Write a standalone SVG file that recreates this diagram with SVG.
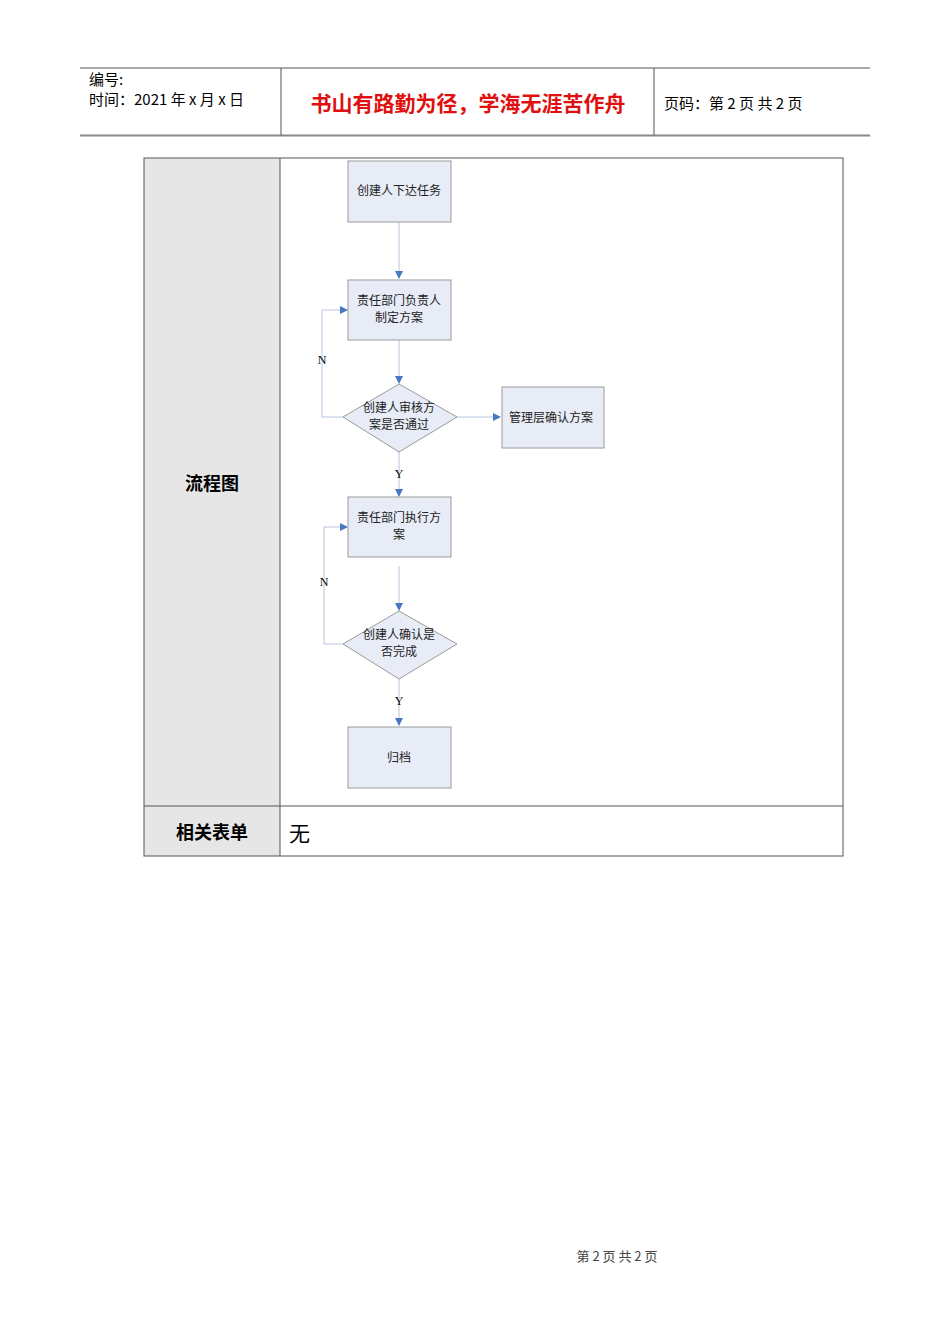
<svg xmlns="http://www.w3.org/2000/svg" width="950" height="1344" viewBox="0 0 950 1344">
<style>
text{font-family:"Noto Sans CJK SC","Liberation Sans",sans-serif;fill:#000}
.box{fill:#e8ecf7;stroke:#9a9a9a;stroke-width:1}
.dia{fill:#e8ecf7;stroke:#9a9a9a;stroke-width:1}
.n{font-size:12px;text-anchor:middle;fill:#222}
.c{fill:none;stroke:#b8c6dd;stroke-width:1}
.yn{font-family:"Liberation Serif",serif;font-size:12px;text-anchor:middle}
</style>
<defs><marker id="a" markerWidth="8" markerHeight="8" refX="7" refY="4" orient="auto" markerUnits="userSpaceOnUse"><path d="M0,0L8,4L0,8Z" fill="#4a78c0"/></marker></defs>
<rect width="950" height="1344" fill="#fff"/>
<g id="header">
<line x1="80" y1="68" x2="870" y2="68" stroke="#555" stroke-width="1"/>
<line x1="80" y1="135.5" x2="870" y2="135.5" stroke="#888" stroke-width="2"/>
<line x1="281" y1="68" x2="281" y2="135" stroke="#555"/>
<line x1="654" y1="68" x2="654" y2="135" stroke="#555"/>
<text x="89" y="85" font-size="15">编号:</text>
<text x="89" y="105" font-size="15">时间：2021 年 x 月 x 日</text>
<text x="468" y="111" font-size="21" font-weight="bold" style="fill:#e01010" text-anchor="middle">书山有路勤为径，学海无涯苦作舟</text>
<text x="664" y="109" font-size="15">页码：第 2 页  共 2 页</text>
</g>
<g id="table">
<rect x="144" y="158" width="136" height="698" fill="#e6e6e6"/>
<rect x="144" y="158" width="699" height="698" fill="none" stroke="#555"/>
<line x1="280" y1="158" x2="280" y2="856" stroke="#555"/>
<line x1="144" y1="806" x2="843" y2="806" stroke="#555"/>
<text x="212" y="490" font-size="18" font-weight="bold" text-anchor="middle">流程图</text>
<text x="212" y="839" font-size="18" font-weight="bold" text-anchor="middle">相关表单</text>
<text x="289" y="841" font-size="21">无</text>
</g>
<g id="connectors">
<line class="c" x1="399" y1="222" x2="399" y2="278" marker-end="url(#a)"/>
<line class="c" x1="399" y1="340" x2="399" y2="383" marker-end="url(#a)"/>
<line class="c" x1="457" y1="417" x2="500" y2="417" marker-end="url(#a)"/>
<polyline class="c" points="343,417 322,417 322,310 347,310" marker-end="url(#a)"/>
<line class="c" x1="399" y1="452" x2="399" y2="496" marker-end="url(#a)"/>
<line class="c" x1="399" y1="566" x2="399" y2="610" marker-end="url(#a)"/>
<polyline class="c" points="343,644 324,644 324,527 347,527" marker-end="url(#a)"/>
<line class="c" x1="399" y1="679" x2="399" y2="725" marker-end="url(#a)"/>
<text class="yn" x="322" y="364">N</text>
<text class="yn" x="399" y="478">Y</text>
<text class="yn" x="324" y="586">N</text>
<text class="yn" x="399" y="705">Y</text>
</g>
<g id="n1"><rect class="box" x="348" y="161" width="103" height="61"/><text class="n" x="399" y="195">创建人下达任务</text></g>
<g id="n2"><rect class="box" x="348" y="280" width="103" height="60"/><text class="n" x="399" y="305">责任部门负责人</text><text class="n" x="399" y="322">制定方案</text></g>
<g id="n3"><polygon class="dia" points="399,384 457,417 399,452 343,417"/><text class="n" x="399" y="412">创建人审核方</text><text class="n" x="399" y="429">案是否通过</text></g>
<g id="n4"><rect class="box" x="502" y="387" width="102" height="61"/><text class="n" x="551" y="422">管理层确认方案</text></g>
<g id="n5"><rect class="box" x="348" y="497" width="103" height="60"/><text class="n" x="399" y="522">责任部门执行方</text><text class="n" x="399" y="539">案</text></g>
<g id="n6"><polygon class="dia" points="399,611 457,644 399,679 343,644"/><text class="n" x="399" y="639">创建人确认是</text><text class="n" x="399" y="656">否完成</text></g>
<g id="n7"><rect class="box" x="348" y="727" width="103" height="61"/><text class="n" x="399" y="762">归档</text></g>
<text x="617" y="1261" font-size="13" text-anchor="middle" style="fill:#444">第  2  页  共  2  页</text>
</svg>
